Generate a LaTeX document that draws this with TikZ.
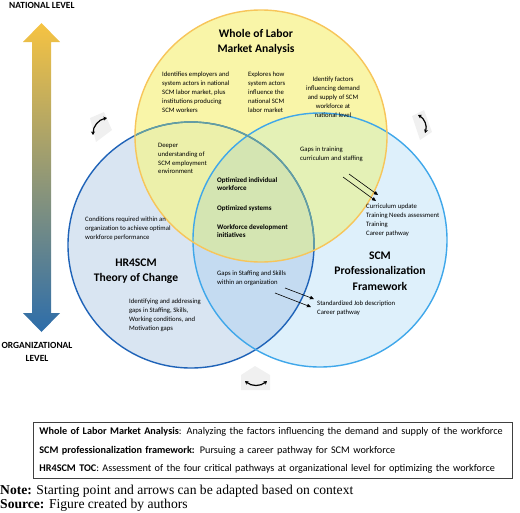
\documentclass[tikz,border=0pt]{standalone}
\usepackage{fontspec}
\setmainfont{Carlito}
\newfontfamily\notefont{Liberation Serif}
\usetikzlibrary{arrows.meta}
\definecolor{wlmFill}{RGB}{249,245,168}
\definecolor{wlmLine}{RGB}{247,197,90}
\definecolor{hrFill}{RGB}{217,229,242}
\definecolor{hrLine}{RGB}{31,99,184}
\definecolor{scmFill}{RGB}{222,240,251}
\definecolor{scmLine}{RGB}{63,167,234}
\definecolor{hrscmFill}{RGB}{196,219,241}
\definecolor{wlmhrFill}{RGB}{236,240,170}
\definecolor{wlmscmFill}{RGB}{228,241,182}
\definecolor{coreFill}{RGB}{212,229,178}
\definecolor{hrTeal}{RGB}{100,160,160}
\newcommand{\wlmcircle}{(261,136) circle (126)}
\newcommand{\hrcircle}{(191,245) circle (123)}
\newcommand{\scmcircle}{(320,240) circle (127)}
\tikzset{
  smalltext/.style={font=\fontsize{6.7}{8.8}\selectfont, align=left, anchor=north west, inner sep=0},
  boldtext/.style={smalltext, font=\fontsize{7}{8.8}\selectfont\bfseries},
  title/.style={font=\fontsize{11.6}{15.5}\selectfont\bfseries, align=center, inner sep=0},
  level/.style={font=\fontsize{9.4}{12.5}\selectfont\bfseries, align=center, inner sep=0},
  pointer/.style={-{Triangle[length=4pt,width=3.5pt]}, line width=0.6pt},
  cyclearrow/.style={{Stealth[length=3.5pt,width=4pt]}-{Stealth[length=3.5pt,width=4pt]}, line width=1.2pt},
  patch/.style={fill=black!6}
}

\begin{document}
\begin{tikzpicture}[x=1pt, y=-1pt]
  \useasboundingbox (0,0) rectangle (520,512);

  % Level arrow
  \shade [top color={rgb,255:red,246;green,195;blue,66}, middle color={rgb,255:red,140;green,157;blue,110},
    bottom color={rgb,255:red,45;green,109;blue,170}]
    (32,42) -- (23,42) -- (41.5,23) -- (60,42) -- (51,42) -- (51,313) -- (60,313)
    -- (41.5,332) -- (23,313) -- (32,313) -- cycle;
  \node [level, anchor=west] (national) at (9,5) {NATIONAL LEVEL};
  \node [level] (organizational) at (37,352) {ORGANIZATIONAL\\LEVEL};

  % Circles
  \fill [hrFill] \hrcircle;
  \fill [scmFill] \scmcircle;
  \begin{scope}
    \clip \hrcircle;
    \fill [hrscmFill] \scmcircle;
  \end{scope}
  \fill [wlmFill] \wlmcircle;
  \begin{scope}
    \clip \wlmcircle; \clip \hrcircle;
    \fill [wlmhrFill] \wlmcircle;
  \end{scope}
  \begin{scope}
    \clip \wlmcircle; \clip \scmcircle;
    \fill [wlmscmFill] \wlmcircle;
    \clip \hrcircle;
    \fill [coreFill] \wlmcircle;
  \end{scope}
  \draw [hrLine, line width=1.4pt] \hrcircle;
  \draw [scmLine, line width=1.4pt] \scmcircle;
  \begin{scope}
    \clip \wlmcircle;
    \draw [hrTeal, line width=1.4pt] \hrcircle;
  \end{scope}
  \draw [wlmLine, line width=1.4pt] \wlmcircle;

  % Whole of labor market analysis
  \node [title] (wlmTitle) at (256,42) {Whole of Labor\\Market Analysis};
  \node [smalltext] (employers) at (162,72) {Identifies employers and\\system actors in national\\SCM labor market, plus\\institutions producing\\SCM workers};
  \node [smalltext] (explores) at (248,72) {Explores how\\system actors\\influence the\\national SCM\\labor market};
  \node [smalltext, align=center, anchor=north] (factors) at (333,77) {Identify factors\\influencing demand\\and supply of SCM\\workforce at\\national level};
  \node [smalltext] (deeper) at (158,143) {Deeper\\understanding of\\SCM employment\\environment};
  \node [smalltext] (trainingGaps) at (300,147) {Gaps in training\\curriculum and staffing};

  % Core
  \node [boldtext] (optWorkforce) at (217,177) {Optimized individual\\workforce};
  \node [boldtext] (optSystems) at (217,205) {Optimized systems};
  \node [boldtext] (development) at (217,224) {Workforce development\\initiatives};

  % HR4SCM theory of change
  \node [title] (hrTitle) at (136,271) {HR4SCM\\Theory of Change};
  \node [smalltext] (conditions) at (85,217) {Conditions required within an\\organization to achieve optimal\\workforce performance};
  \node [smalltext] (addressing) at (129,299) {Identifying and addressing\\gaps in Staffing, Skills,\\Working conditions, and\\Motivation gaps};
  \node [smalltext] (staffingGaps) at (217,271) {Gaps in Staffing and Skills\\within an organization};

  % SCM professionalization framework
  \node [title] (scmTitle) at (380,271) {SCM\\Professionalization\\Framework};
  \node [smalltext] (curriculum) at (366,204) {Curriculum update\\Training Needs assessment\\Training\\Career pathway};
  \node [smalltext] (jobDescription) at (317,301) {Standardized Job description\\Career pathway};

  % Pointers
  \coordinate (trainA) at (343,177);
  \coordinate (trainB) at (349,174);
  \coordinate (currA) at (376,201);
  \coordinate (currB) at (378,195);
  \coordinate (staffA) at (285,288);
  \coordinate (staffB) at (275,293);
  \coordinate (jobA) at (314,299);
  \coordinate (jobB) at (311,307);
  \draw [pointer] (trainA) -- (currA);
  \draw [pointer] (trainB) -- (currB);
  \draw [pointer] (staffA) -- (jobA);
  \draw [pointer] (staffB) -- (jobB);

  % Cycle arrows
  \fill [patch] (90,118) -- (104,112) -- (112,130) -- (96,142) -- cycle;
  \fill [patch] (412,116) -- (424,110) -- (432,132) -- (420,140) -- cycle;
  \fill [patch] (241,390) -- (241,375) -- (255,366) -- (270,375) -- (270,390) -- cycle;
  \coordinate (leftFrom) at (93,135);
  \coordinate (leftTo) at (107,118);
  \coordinate (rightFrom) at (418,115);
  \coordinate (rightTo) at (425,133);
  \coordinate (bottomFrom) at (245,381);
  \coordinate (bottomTo) at (267,381);
  \draw [cyclearrow] (leftFrom) to [bend left=40] (leftTo);
  \draw [cyclearrow] (rightFrom) to [bend left=40] (rightTo);
  \draw [cyclearrow] (bottomFrom) to [bend right=40] (bottomTo);

  % Legend
  \node [draw=black!75, line width=0.8pt, anchor=north west, inner xsep=6pt, inner ysep=5pt,
    text width=467pt, align=left, font=\fontsize{10.2}{18.5}\selectfont] (legend) at (33,422)
    {\textbf{Whole of Labor Market Analysis}: Analyzing the factors influencing the demand and supply of the workforce\\
     \textbf{SCM professionalization framework:} Pursuing a career pathway for SCM workforce\\
     \textbf{HR4SCM TOC}: Assessment of the four critical pathways at organizational level for optimizing the workforce};
  \node [anchor=north west, inner sep=0, align=left, font=\notefont\fontsize{13.6}{12.3}\selectfont] (note) at (0,485)
    {\textbf{Note:} Starting point and arrows can be adapted based on context\\
     \textbf{Source:} Figure created by authors};
\end{tikzpicture}
\end{document}
